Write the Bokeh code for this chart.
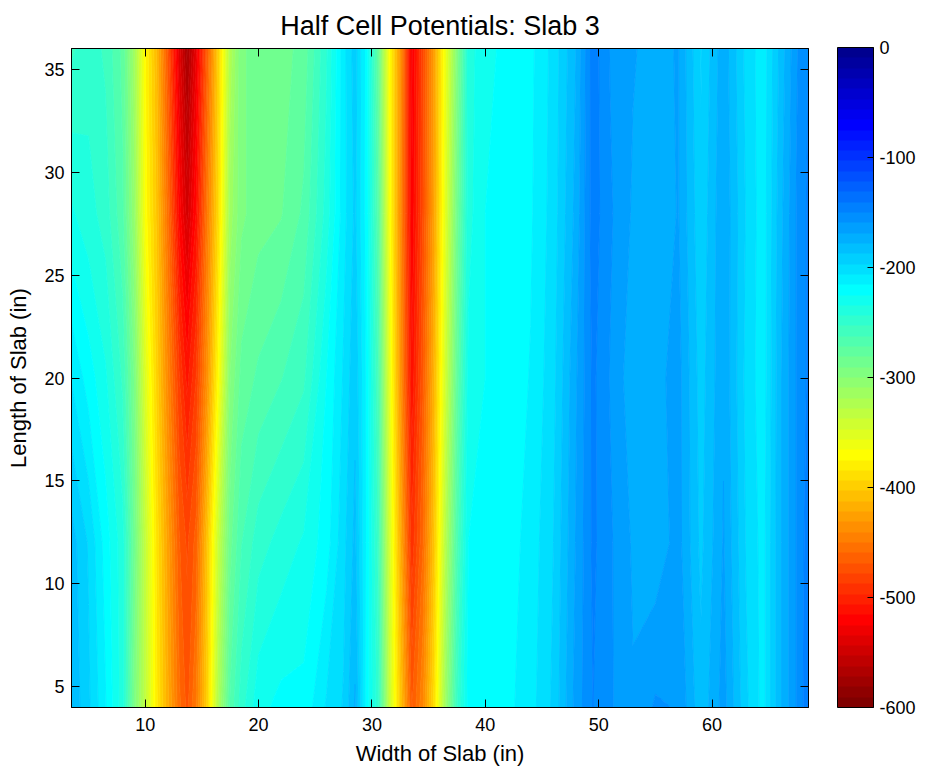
import numpy as np
from bokeh.plotting import figure
from bokeh.models import LinearAxis, ColorBar, LinearColorMapper, FixedTicker, Range1d
from bokeh.embed import file_html
from bokeh.resources import INLINE

# ---------------- data ----------------
TITLE = "Half Cell Potentials: Slab 3"
X_LABEL = "Width of Slab (in)"
Y_LABEL = "Length of Slab (in)"

X_IN = [3.5, 5, 6.5, 8, 9, 10, 11, 12, 13, 13.7, 14.5, 15.5, 16.5, 17.5, 18.5,
        20, 22, 24, 26, 27.5, 28.5, 29.5, 30.5, 31.5, 32.5, 33.5, 34.5, 35.5,
        36.5, 37.5, 38.5, 40, 42, 44, 46, 48, 49.5, 51, 53, 55, 57, 59, 61, 63,
        64.5, 66, 67.5, 68.5]
Y_IN = [4, 12, 20, 28, 36]

ROW_Y04 = [-180, -195, -215, -240, -293, -335, -382, -420, -457, -472, -450, -397,
           -322, -270, -248, -228, -222, -222, -205, -196, -177, -220, -248, -337,
           -405, -470, -442, -390, -315, -255, -222, -220, -218, -210, -195, -165,
           -150, -158, -168, -158, -160, -185, -165, -195, -210, -180, -158, -143]
ROW_Y12 = [-183, -198, -220, -240, -285, -337, -387, -427, -468, -480, -465, -405,
           -337, -285, -263, -248, -240, -233, -220, -200, -185, -218, -255, -345,
           -420, -495, -460, -405, -330, -268, -225, -222, -220, -212, -197, -168,
           -148, -158, -170, -175, -165, -190, -168, -198, -210, -180, -158, -145]
ROW_Y20 = [-207, -220, -233, -255, -292, -352, -397, -442, -487, -510, -487, -435,
           -370, -300, -278, -270, -263, -255, -225, -205, -190, -218, -262, -355,
           -435, -515, -470, -415, -345, -280, -232, -225, -222, -215, -200, -170,
           -148, -160, -175, -172, -165, -192, -170, -200, -212, -180, -158, -148]
ROW_Y28 = [-233, -240, -248, -270, -308, -370, -405, -457, -520, -548, -515, -450,
           -390, -315, -293, -285, -282, -270, -240, -210, -195, -220, -270, -365,
           -440, -525, -478, -425, -355, -290, -238, -225, -223, -217, -202, -175,
           -145, -158, -170, -178, -168, -195, -170, -198, -212, -182, -158, -148]
ROW_Y36 = [-255, -248, -255, -275, -315, -375, -412, -472, -540, -575, -535, -465,
           -397, -325, -293, -285, -285, -278, -245, -210, -192, -220, -278, -370,
           -435, -530, -480, -427, -362, -300, -240, -226, -224, -218, -203, -178,
           -145, -160, -168, -172, -168, -198, -172, -200, -212, -185, -160, -150]

X_TICKS = [10, 20, 30, 40, 50, 60]
Y_TICKS = [5, 10, 15, 20, 25, 30, 35]
CB_TICKS = [-600, -500, -400, -300, -200, -100, 0]
CB_LABELS = ["-600", "-500", "-400", "-300", "-200", "-100", "0"]
Z_LOW, Z_HIGH = -600, 0


# ---------------- MATLAB jet colormap ----------------
def jet(m=64):
    n = int(np.ceil(m / 4))
    u = np.concatenate([np.arange(1, n + 1) / n, np.ones(n - 1), np.arange(n, 0, -1) / n])
    g = int(np.ceil(n / 2)) - (1 if m % 4 == 1 else 0) + np.arange(1, len(u) + 1)
    r = g + n
    b = g - n
    g = g[g <= m]
    r = r[r <= m]
    b = b[b >= 1]
    J = np.zeros((m, 3))
    J[r - 1, 0] = u[:len(r)]
    J[g - 1, 1] = u[:len(g)]
    J[b - 1, 2] = u[len(u) - len(b):]
    return ["#%02x%02x%02x" % tuple(int(round(c * 255)) for c in row) for row in J]


JET = jet(64)
PALETTE = JET[::-1]          # -600 -> dark red, 0 -> dark blue

Z = np.array([ROW_Y04, ROW_Y12, ROW_Y20, ROW_Y28, ROW_Y36], dtype=float)
levels = np.linspace(Z_LOW, Z_HIGH, len(PALETTE) + 1)

FONT = "Liberation Sans"

p = figure(output_backend="svg", toolbar_location=None,
           frame_width=737, frame_height=659,
           min_border_left=71, min_border_right=117,
           min_border_top=48, min_border_bottom=67,
           x_range=Range1d(X_IN[0], X_IN[-1]), y_range=Range1d(Y_IN[0], Y_IN[-1]),
           title=TITLE, x_axis_label=X_LABEL, y_axis_label=Y_LABEL)

# filled bands plus thin level lines in band colour (hides anti-alias seams)
p.contour(X_IN, Y_IN, Z, levels, fill_color=PALETTE,
          line_color=PALETTE + [PALETTE[-1]], line_width=1)

p.xgrid.visible = False
p.ygrid.visible = False
p.outline_line_color = "black"
p.outline_line_width = 1
p.background_fill_color = "white"
p.border_fill_color = "white"

p.title.text_font = FONT
p.title.text_font_size = "27px"
p.title.text_font_style = "normal"
p.title.align = "center"
p.title.text_color = "black"
p.title.standoff = 16


def style_axis(ax, ticks, labels=True):
    ax.ticker = FixedTicker(ticks=ticks)
    ax.major_tick_in = 8
    ax.major_tick_out = 0
    ax.minor_tick_line_color = None
    ax.major_tick_line_color = "black"
    ax.axis_line_color = "black"
    ax.major_label_text_font = FONT
    ax.major_label_text_font_size = "18px"
    ax.major_label_text_color = "black"
    ax.axis_label_text_font = FONT
    ax.axis_label_text_font_size = "22px"
    ax.axis_label_text_font_style = "normal"
    ax.axis_label_text_color = "black"
    if not labels:
        ax.major_label_overrides = {t: "" for t in ticks}
        ax.major_label_standoff = 0


style_axis(p.xaxis[0], X_TICKS)
style_axis(p.yaxis[0], Y_TICKS)
p.xaxis[0].major_label_standoff = 10
p.xaxis[0].axis_label_standoff = 7
p.yaxis[0].major_label_standoff = 7
p.yaxis[0].axis_label_standoff = 10

top_ax = LinearAxis()
style_axis(top_ax, X_TICKS, labels=False)
p.add_layout(top_ax, "above")
right_ax = LinearAxis()
style_axis(right_ax, Y_TICKS, labels=False)
p.add_layout(right_ax, "right")

mapper = LinearColorMapper(palette=PALETTE, low=Z_LOW, high=Z_HIGH)
cb = ColorBar(color_mapper=mapper, ticker=FixedTicker(ticks=CB_TICKS),
              major_label_overrides={t: s for t, s in zip(CB_TICKS, CB_LABELS)},
              width=36, height=660, location=(29, 0),
              padding=0, margin=0,
              bar_line_color="black", bar_line_width=1,
              major_tick_line_color="black", major_tick_in=6, major_tick_out=0,
              minor_tick_line_color=None,
              label_standoff=6,
              major_label_text_font=FONT, major_label_text_font_size="18px",
              major_label_text_color="black",
              background_fill_alpha=0, border_line_color=None)
p.add_layout(cb, "right")

open("out.html", "w").write(file_html(p, INLINE))
